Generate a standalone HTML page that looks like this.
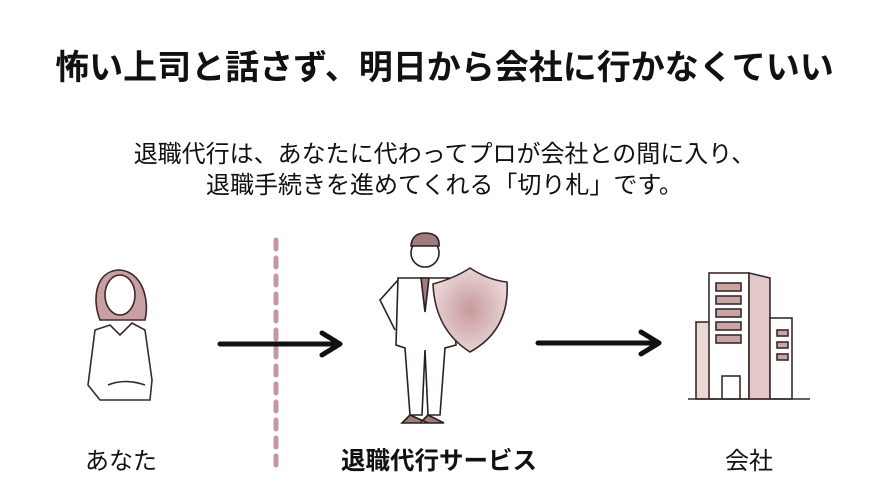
<!DOCTYPE html>
<html><head><meta charset="utf-8"><style>
body{margin:0;width:889px;height:493px;background:#fff;overflow:hidden;font-family:"Liberation Sans","Noto Sans CJK JP",sans-serif;color:#111;position:relative}
.t{position:absolute;left:0;width:889px;text-align:center;white-space:nowrap}
</style></head><body>
<div class="t" style="top:47px;font-size:34px;line-height:42px;font-weight:bold">怖い上司と話さず、明日から会社に行かなくていい</div>
<div class="t" style="top:139px;font-size:24px;line-height:31px">退職代行は、あなたに代わってプロが会社との間に入り、<br>退職手続きを進めてくれる「切り札」です。</div>
<div class="t" style="top:446px;left:61px;width:120px;font-size:24px;line-height:32px">あなた</div>
<div class="t" style="top:446px;left:289px;width:300px;font-size:24.5px;line-height:32px;font-weight:bold">退職代行サービス</div>
<div class="t" style="top:446px;left:689px;width:120px;font-size:24px;line-height:32px">会社</div>
<svg width="889" height="493" style="position:absolute;left:0;top:0">
<line x1="276" y1="240" x2="276" y2="468" stroke="#c09a9c" stroke-width="5" stroke-dasharray="9,9" stroke-linecap="round"/>
<g stroke="#111" stroke-width="5" fill="none" stroke-linecap="round" stroke-linejoin="round">
<path d="M220 344H338M322 333L340 344L322 355"/>
<path d="M538 343H657M641 332L659 343L641 354"/>
</g>
<g stroke="#3a2a2a" stroke-width="1.6" fill="#fff">
<path d="M100 320C92 300 95 272 118 270C142 270 150 300 145 320Z" fill="#c8a0a2"/>
<ellipse cx="120" cy="295" rx="15" ry="20"/>
<path d="M95 330L110 325L120 335L132 323L145 330L152 380L150 400H100L88 385Z"/>
<path d="M108 385Q125 378 145 385"/>
</g>
<g stroke="#2a2020" stroke-width="1.6" fill="#fff">
<circle cx="425" cy="253" r="14"/>
<path d="M411 246Q412 233 425 233Q440 233 439 246Z" fill="#a07b7c"/>
<path d="M398 278L452 278L456 345L445 348L440 415L428 415L425 350L422 415L410 415L405 348L396 345Z"/>
<path d="M398 280L380 300L395 330" fill="none"/>
<path d="M421 278L425 312L429 278Z" fill="#a07b7c"/>
<path d="M410 415L402 423H428ZM428 415L444 423H420Z" fill="#a07b7c"/>
</g>
<defs><radialGradient id="g"><stop offset="0" stop-color="#c79a9c"/><stop offset="1" stop-color="#e8d2d3"/></radialGradient></defs>
<path d="M433 284Q455 278 470 268Q488 280 507 282Q510 330 470 352Q435 330 433 284Z" fill="url(#g)" stroke="#3a2a2a" stroke-width="1.6"/>
<g stroke="#3a2a2a" stroke-width="1.6" fill="#fff">
<rect x="696" y="322" width="18" height="77" fill="#ead8d8"/>
<rect x="709" y="273" width="40" height="126"/>
<path d="M749 273L770 278V399H749Z" fill="#e3c8c9"/>
<rect x="770" y="318" width="22" height="81"/>
<g fill="#c9a5a6"><rect x="716" y="283" width="25" height="8"/><rect x="716" y="296" width="25" height="8"/><rect x="716" y="309" width="25" height="8"/><rect x="716" y="322" width="25" height="8"/><rect x="716" y="335" width="25" height="8"/>
<rect x="777" y="330" width="11" height="6"/><rect x="777" y="342" width="11" height="6"/><rect x="777" y="354" width="11" height="6"/></g>
<rect x="722" y="376" width="18" height="23"/>
<line x1="688" y1="399" x2="810" y2="399"/>
</g>
</svg>
</body></html>
